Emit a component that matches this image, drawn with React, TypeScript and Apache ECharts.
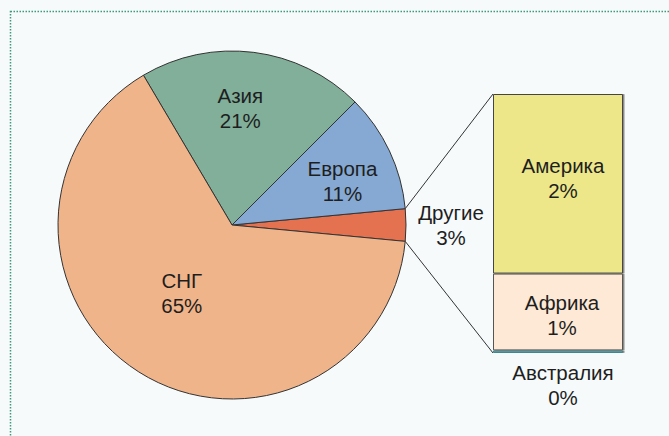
import React, { useEffect, useRef } from "react";
import * as echarts from "echarts";

// Pie data
const pieCategories = ["Другие", "Европа", "Азия", "СНГ"];
const pieValues = [3, 11, 21, 65];
// Breakdown of "Другие" (bottom to top of the stacked bar)
const barCategories = ["Австралия", "Африка", "Америка"];
const barValues = [0.03, 0.89, 2.08];

const PIE_COLORS = ["#e4714f", "#85a9d2", "#81af9a", "#f0b48a"];
const BAR_COLORS = ["#5da6b2", "#fde9d5", "#ede78a"];
const BAR_BORDERS = ["#3f8791", "#555", "#444"];
const FONT = "'Liberation Sans', Arial, sans-serif";

// label offsets (layout)
const PIE_LABEL_OFFSETS = [
  [129, 0],
  [29, -6],
  [-3, -28],
  [-2, -8],
];
const BAR_LABEL_OFFSETS = [
  [5, 0],
  [4, 3],
  [5, -6],
];

const CX = 232;
const CY = 225;
const R = 174;
const GRID = { left: 493, top: 94, width: 130, height: 259 };

export default function App() {
  const ref = useRef<HTMLDivElement>(null);
  useEffect(() => {
    if (!ref.current) return;
    const chart = echarts.init(ref.current, null, { renderer: "svg" });
    const total = pieValues.reduce((a, b) => a + b, 0);
    const otherDeg = (pieValues[0] / total) * 360;
    const startAngle = -otherDeg / 2;
    const barTotal = barValues.reduce((a, b) => a + b, 0);

    const aTop = ((startAngle + otherDeg) * Math.PI) / 180;
    const aBot = (startAngle * Math.PI) / 180;
    const pTop = [CX + R * Math.cos(aTop), CY - R * Math.sin(aTop)];
    const pBot = [CX + R * Math.cos(aBot), CY - R * Math.sin(aBot)];

    const textStyle = {
      fontSize: 20.5,
      lineHeight: 25,
      color: "#1e1e1e",
      fontFamily: FONT,
    };

    chart.setOption({
      animation: false,
      backgroundColor: "#f6fafb",
      grid: { ...GRID, containLabel: false },
      xAxis: { type: "category", data: ["Другие"], show: false },
      yAxis: { type: "value", min: 0, max: barTotal, show: false },
      series: [
        {
          type: "pie",
          center: [CX, CY],
          radius: R,
          startAngle,
          clockwise: false,
          silent: true,
          itemStyle: { borderColor: "#333", borderWidth: 1 },
          label: {
            show: true,
            position: "inside",
            formatter: (p: any) => `${p.name}\n${Math.round(p.percent)}%`,
            ...textStyle,
          },
          labelLine: { show: false },
          labelLayout: (p: any) => ({
            dx: PIE_LABEL_OFFSETS[p.dataIndex][0],
            dy: PIE_LABEL_OFFSETS[p.dataIndex][1],
          }),
          data: pieCategories.map((name, i) => ({
            name,
            value: pieValues[i],
            itemStyle: { color: PIE_COLORS[i] },
          })),
        },
        ...barCategories.map((name, i) => ({
          type: "bar",
          name,
          stack: "others",
          barWidth: "100%",
          silent: true,
          itemStyle: {
            color: BAR_COLORS[i],
            borderColor: BAR_BORDERS[i],
            borderWidth: 1,
            shadowColor: "#8c8c84",
            shadowOffsetX: 1.5,
            shadowBlur: 0,
          },
          label: {
            show: true,
            position: i === 0 ? "bottom" : "inside",
            distance: 7,
            offset: BAR_LABEL_OFFSETS[i],
            formatter: (p: any) =>
              `${p.seriesName}\n${Math.round((p.value / barTotal) * pieValues[0])}%`,
            ...textStyle,
          },
          data: [barValues[i]],
        })),
      ],
      graphic: [
        {
          type: "rect",
          shape: { x: 10.5, y: 11.5, width: 720, height: 500 },
          style: {
            fill: "none",
            stroke: "#3c9a7c",
            lineWidth: 1.5,
            lineDash: [1.5, 1.5],
          },
          silent: true,
        },
        {
          type: "line",
          shape: { x1: pTop[0], y1: pTop[1], x2: GRID.left, y2: GRID.top },
          style: { stroke: "#333", lineWidth: 1 },
          silent: true,
        },
        {
          type: "line",
          shape: {
            x1: pBot[0],
            y1: pBot[1],
            x2: GRID.left,
            y2: GRID.top + GRID.height,
          },
          style: { stroke: "#333", lineWidth: 1 },
          silent: true,
        },
      ],
    });
    return () => chart.dispose();
  }, []);
  return (
    <div
      ref={ref}
      style={{ position: "fixed", left: 0, top: 0, width: 669, height: 436 }}
    />
  );
}
